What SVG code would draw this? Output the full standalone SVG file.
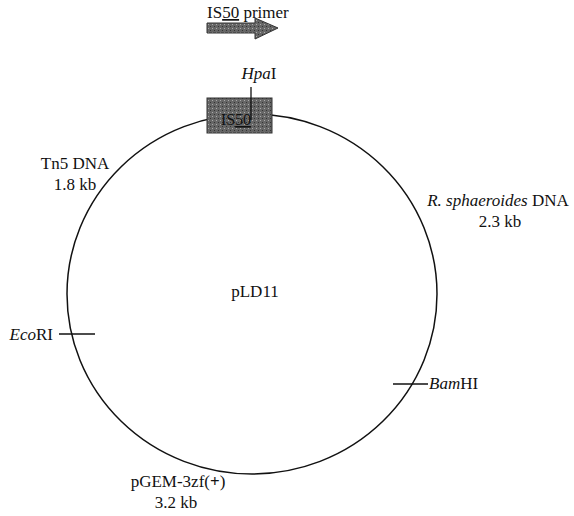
<svg xmlns="http://www.w3.org/2000/svg" width="574" height="516" viewBox="0 0 574 516">
<style>
text{font-family:"Liberation Serif","Times New Roman",serif;font-size:17px;fill:#111}
.it{font-style:italic}
.b{font-weight:bold}
.u{text-decoration:underline}
.tick{stroke:#111;stroke-width:1.3}
</style>
<defs>
<pattern id="stip" width="4" height="4" patternUnits="userSpaceOnUse">
<rect width="4" height="4" fill="#666"/>
<rect x="0" y="0" width="1" height="1" fill="#aaa"/>
<rect x="2" y="2" width="1" height="1" fill="#333"/>
</pattern>
</defs>
<rect width="574" height="516" fill="#fff"/>
<g id="primer">
<text x="207" y="18">IS<tspan class="u">50</tspan> primer</text>
<path d="M207,23 H255 V18 L278,28 L255,39 V33 H207 Z" fill="url(#stip)" stroke="#333" stroke-width="1"/>
</g>
<g id="plasmid">
<ellipse cx="252" cy="294" rx="185" ry="180" fill="none" stroke="#111" stroke-width="1.5"/>
<text x="255" y="297" text-anchor="middle">pLD11</text>
</g>
<g id="is50">
<rect x="207" y="98" width="65" height="35" fill="url(#stip)" stroke="#333" stroke-width="1"/>
<text x="236" y="125" text-anchor="middle" fill="#222" style="font-size:16px">IS<tspan class="u">50</tspan></text>
</g>
<g id="sites">
<line class="tick" x1="251" y1="87" x2="251" y2="120"/>
<text x="259" y="79" text-anchor="middle"><tspan class="it">Hpa</tspan>I</text>
<line class="tick" x1="59" y1="334" x2="95" y2="334"/>
<text x="53" y="340" text-anchor="end"><tspan class="it">Eco</tspan>RI</text>
<line class="tick" x1="393" y1="384" x2="428" y2="384"/>
<text x="429" y="389"><tspan class="it">Bam</tspan>HI</text>
</g>
<g id="segments">
<text x="75" y="169" text-anchor="middle">Tn5 DNA</text>
<text x="75" y="190" text-anchor="middle">1.8 kb</text>
<text x="498" y="206" text-anchor="middle"><tspan class="it">R. sphaeroides</tspan> DNA</text>
<text x="500" y="227" text-anchor="middle">2.3 kb</text>
<text x="178" y="487" text-anchor="middle">pGEM-3zf(<tspan class="b">+</tspan>)</text>
<text x="176" y="508" text-anchor="middle">3.2 kb</text>
</g>
</svg>
